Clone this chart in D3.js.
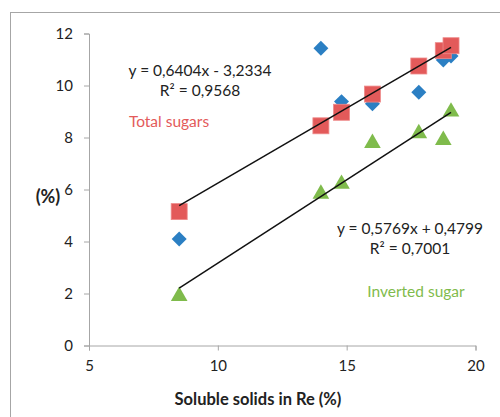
<!DOCTYPE html>
<html>
<head>
<meta charset="utf-8">
<script src="https://cdn.jsdelivr.net/npm/d3@7"></script>
<style>
  body { margin: 0; background: #fff; }
  svg { display: block; font-family: Lato, "Open Sans", sans-serif; }
</style>
</head>
<body>
<svg id="chart" width="500" height="417"></svg>
<script>
// Soluble solids in Re (%) for each sample
const solids = [8.5, 14.0, 14.8, 16.0, 17.8, 18.75, 19.05];
const seriesA = [4.1, 11.43, 9.38, 9.3, 9.74, 10.98, 11.13];   // blue diamonds
const totalSugars = [5.15, 8.45, 8.97, 9.67, 10.75, 11.34, 11.53];
const invertedSugar = [1.9, 5.83, 6.21, 7.78, 8.16, 7.9, 8.99];
const xTicks = [5, 10, 15, 20];
const yTicks = [0, 2, 4, 6, 8, 10, 12];

// trend lines as printed on the chart
const fitTop = { slope: 0.5769, icept: 0.4799, label: ['y = 0,5769x + 0,4799', 'R² = 0,7001'] };
const fitBottom = { slope: 0.6404, icept: -3.2334, label: ['y = 0,6404x - 3,2334', 'R² = 0,9568'] };

const BLUE = '#2b7fc3', RED = '#e35a5a', GREEN = '#7fbb4c', AXIS = '#a6a6a6';

const svg = d3.select('#chart');

// outer chart frame
svg.append('rect').attr('x', 10.5).attr('y', 12.5)
    .attr('width', 520).attr('height', 440)
    .attr('fill', 'none').attr('stroke', AXIS).attr('stroke-width', 1);

const x = d3.scaleLinear().domain([5, 20]).range([89, 475.5]);
const y = d3.scaleLinear().domain([0, 12]).range([345.5, 33.5]);

// axes
const yAxis = svg.append('g').attr('transform', 'translate(89,0)')
    .call(d3.axisLeft(y).tickValues(yTicks).tickSize(5).tickPadding(11));
const xAxis = svg.append('g').attr('transform', 'translate(0,345.5)')
    .call(d3.axisBottom(x).tickValues(xTicks).tickSize(5).tickPadding(10));
for (const ax of [xAxis, yAxis]) {
    ax.select('.domain').attr('stroke', AXIS);
    ax.selectAll('.tick line').attr('stroke', AXIS);
    ax.selectAll('.tick text').attr('font-size', 15).attr('fill', '#222')
        .attr('font-family', 'Lato, sans-serif');
}

// markers
const pts = (vals) => solids.map((s, i) => ({ x: s, y: vals[i] }));

svg.append('g').selectAll('path').data(pts(seriesA)).join('path')
    .attr('transform', d => `translate(${x(d.x)},${y(d.y)}) rotate(45)`)
    .attr('d', d3.symbol(d3.symbolSquare, 112))
    .attr('fill', BLUE);

svg.append('g').selectAll('rect').data(pts(totalSugars)).join('rect')
    .attr('x', d => x(d.x) - 8).attr('y', d => y(d.y) - 8)
    .attr('width', 16).attr('height', 16)
    .attr('fill', RED).attr('stroke', '#ee8a8a').attr('stroke-width', 0.8);

svg.append('g').selectAll('path').data(pts(invertedSugar)).join('path')
    .attr('transform', d => `translate(${x(d.x)},${y(d.y)})`)
    .attr('d', d3.symbol(d3.symbolTriangle, 120))
    .attr('fill', GREEN);

// trend lines
const x0 = d3.min(solids), x1 = d3.max(solids);
for (const f of [fitTop, fitBottom]) {
    svg.append('line')
        .attr('x1', x(x0)).attr('y1', y(f.slope * x0 + f.icept))
        .attr('x2', x(x1)).attr('y2', y(f.slope * x1 + f.icept))
        .attr('stroke', '#111').attr('stroke-width', 1.5);
}

// annotations
const note = (tx, ty, str, color) => svg.append('text')
    .attr('x', tx).attr('y', ty).attr('text-anchor', 'middle')
    .attr('dominant-baseline', 'middle').attr('font-size', 15.5)
    .attr('fill', color).text(str);

note(200, 72, fitBottom.label[0], '#222');
note(200, 92, fitBottom.label[1], '#222');
note(169, 123, 'Total sugars', RED);
note(410, 230, fitTop.label[0], '#222');
note(410, 250, fitTop.label[1], '#222');
note(416, 293, 'Inverted sugar', GREEN);

// axis titles
svg.append('text').attr('x', 258).attr('y', 401).attr('text-anchor', 'middle')
    .attr('dominant-baseline', 'middle').attr('font-size', 16.5).attr('font-weight', 700)
    .attr('fill', '#222').text('Soluble solids in Re (%)');
svg.append('text').attr('x', 48).attr('y', 198).attr('text-anchor', 'middle')
    .attr('dominant-baseline', 'middle').attr('font-size', 18).attr('font-weight', 700)
    .attr('fill', '#222').text('(%)');
</script>
</body>
</html>
